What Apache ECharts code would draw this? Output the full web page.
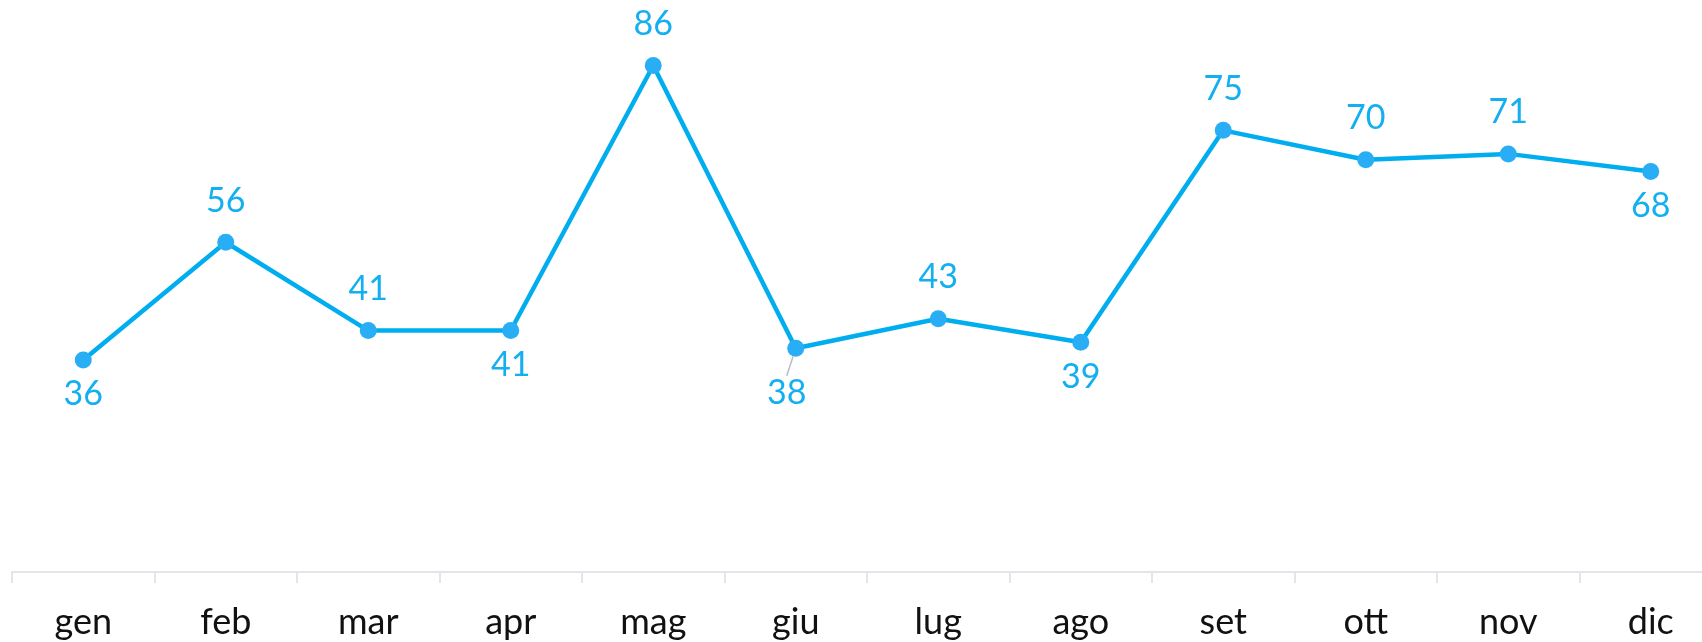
<!DOCTYPE html>
<html>
<head>
<meta charset="utf-8">
<script src="https://cdn.jsdelivr.net/npm/echarts@6/dist/echarts.min.js"></script>
<style>
html,body{margin:0;padding:0;background:#fff;}
#chart{width:1702px;height:642px;}
</style>
</head>
<body>
<div id="chart"></div>
<script>
const categories = ['gen','feb','mar','apr','mag','giu','lug','ago','set','ott','nov','dic'];
const values = [36, 56, 41, 41, 86, 38, 43, 39, 75, 70, 71, 68];
const labelPositions = ['bottom','top','top','bottom','top','bottom','top','bottom','top','top','top','bottom'];

const chart = echarts.init(document.getElementById('chart'));
const data = values.map((v, i) => {
  const top = labelPositions[i] === 'top';
  const item = { value: v, label: { position: labelPositions[i], distance: top ? 16 : 9 } };
  if (i === 5) item.labelLine = { show: true, lineStyle: { color: '#b8bcc4', width: 1.5 } };
  return item;
});
chart.setOption({
  animation: false,
  grid: { left: 12, right: -20, top: 42, bottom: 70, containLabel: false, outerBoundsMode: 'none' },
  xAxis: {
    type: 'category',
    data: categories,
    boundaryGap: true,
    axisLine: { lineStyle: { color: '#e2e5ea', width: 2 } },
    axisTick: { show: true, length: 11, lineStyle: { color: '#e2e5ea', width: 2 } },
    axisLabel: { color: '#111', fontFamily: 'Lato', fontSize: 36, margin: 32 }
  },
  yAxis: { type: 'value', min: 0, max: 90, show: false, splitLine: { show: false } },
  series: [{
    type: 'line',
    data: data,
    symbol: 'circle',
    symbolSize: 17,
    itemStyle: { color: '#29aef6' },
    lineStyle: { color: '#00aeef', width: 4.5 },
    label: { show: true, color: '#13aff0', fontFamily: 'Lato', fontSize: 34, distance: 9 },
    labelLayout: function (p) {
      if (p.dataIndex === 5) return { dx: -9, dy: 10 };
      return {};
    }
  }]
});
</script>
</body>
</html>
